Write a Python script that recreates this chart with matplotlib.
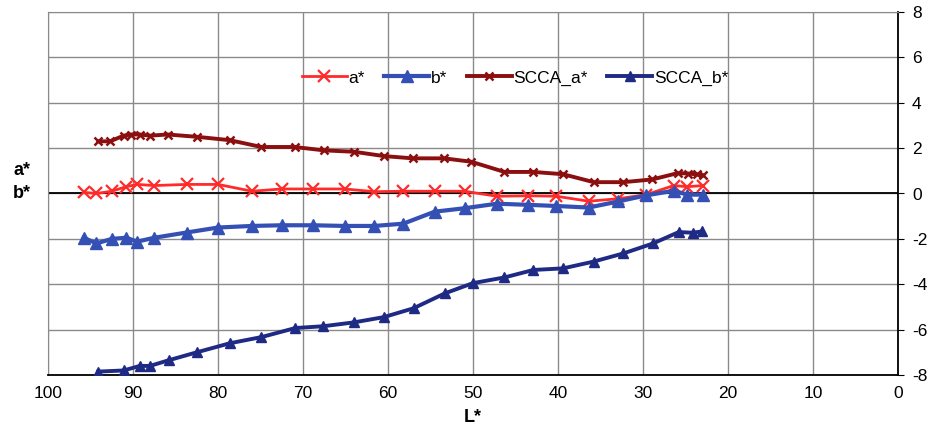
import matplotlib
matplotlib.use("Agg")
import matplotlib.pyplot as plt

plt.rcParams['axes.unicode_minus'] = False
plt.rcParams['font.family'] = ['Liberation Sans Narrow', 'Liberation Sans', 'DejaVu Sans']

# ---- data ----
L_ab = [95.8, 94.3, 92.5, 90.8, 89.5, 87.5, 83.7, 80.0, 76.0, 72.5, 68.8, 65.1, 61.6,
        58.2, 54.5, 51.0, 47.2, 43.5, 40.2, 36.4, 32.9, 29.6, 26.4, 24.8, 22.9]
a_star = [0.05, 0.0, 0.1, 0.3, 0.4, 0.35, 0.4, 0.4, 0.1, 0.2, 0.2, 0.2, 0.08,
          0.1, 0.1, 0.1, -0.12, -0.1, -0.12, -0.34, -0.23, -0.05, 0.35, 0.3, 0.35]
b_star = [-1.95, -2.2, -2.0, -1.95, -2.12, -1.95, -1.72, -1.5, -1.43, -1.4, -1.4, -1.43, -1.43,
          -1.33, -0.8, -0.65, -0.45, -0.5, -0.55, -0.62, -0.35, -0.08, 0.12, -0.05, -0.05]

L_scca_a = [94.1, 92.7, 91.1, 90.2, 89.2, 88.0, 85.9, 82.5, 78.6, 74.9, 71.0, 67.5, 64.0, 60.5,
            57.1, 53.4, 50.2, 46.3, 42.9, 39.4, 35.8, 32.3, 28.9, 25.9, 24.7, 23.6, 22.9]
scca_a = [2.3, 2.3, 2.55, 2.6, 2.6, 2.55, 2.6, 2.5, 2.35, 2.05, 2.05, 1.9, 1.84, 1.65,
          1.55, 1.55, 1.4, 0.95, 0.95, 0.85, 0.5, 0.5, 0.62, 0.9, 0.88, 0.84, 0.8]

L_scca_b = [94.1, 91.1, 89.2, 88.0, 85.8, 82.5, 78.6, 74.9, 70.9, 67.6, 64.0, 60.5, 57.0,
            53.3, 50.0, 46.3, 42.9, 39.4, 35.8, 32.3, 28.8, 25.8, 24.1, 23.1]
scca_b = [-7.85, -7.8, -7.6, -7.6, -7.35, -7.0, -6.6, -6.33, -5.93, -5.85, -5.68, -5.45, -5.06,
          -4.4, -3.95, -3.7, -3.37, -3.3, -3.0, -2.64, -2.2, -1.7, -1.73, -1.67]

x_ticks = [100, 90, 80, 70, 60, 50, 40, 30, 20, 10, 0]
y_ticks = [8, 6, 4, 2, 0, -2, -4, -6, -8]

# ---- figure ----
fig = plt.figure(figsize=(9.33, 4.44), dpi=100)
ax = fig.add_axes([48/933, 1-375/444, 850/933, 363/444])

grid_c = '#8a8a8a'
for xv in x_ticks:
    ax.axvline(xv, color=grid_c, lw=1.0, zorder=0)
for yv in y_ticks:
    ax.axhline(yv, color=grid_c, lw=1.0, zorder=0)
ax.axhline(0, color='black', lw=1.3, zorder=1)

ax.plot(L_ab, a_star, color='#ff2a2a', lw=2.0, marker='x', ms=8, mew=1.6, label='a*', zorder=3)
ax.plot(L_ab, b_star, color='#3550b5', lw=3.0, marker='^', ms=9, label='b*', zorder=3)
ax.plot(L_scca_a, scca_a, color='#8b0f0f', lw=2.8, marker='x', ms=6, mew=1.8, label='SCCA_a*', zorder=4)
ax.plot(L_scca_b, scca_b, color='#1f2a85', lw=2.8, marker='^', ms=6.5, label='SCCA_b*', zorder=4)

ax.set_xlim(100, 0)
ax.set_ylim(-8, 8)
ax.set_xticks(x_ticks)
ax.set_yticks(y_ticks)
ax.yaxis.tick_right()
ax.tick_params(axis='x', length=0, pad=8, labelsize=12.5)
ax.tick_params(axis='y', length=4, direction='out', pad=6, labelsize=12.5, color='black')
for s in ['top', 'left']:
    ax.spines[s].set_color(grid_c)
for s in ['bottom', 'right']:
    ax.spines[s].set_color('black')
    ax.spines[s].set_linewidth(1.3)

ax.set_xlabel('L*', fontsize=13, fontweight='bold', labelpad=6)
fig.text(22/933, 1-182/444, 'a*\nb*', fontsize=13, fontweight='bold', ha='center', va='center',
         linespacing=1.4)

leg = ax.legend(loc='center', bbox_to_anchor=((515-48)/850, (375-78)/363), ncol=4, frameon=False,
                fontsize=12.5, handlelength=2.6, handletextpad=0.1, columnspacing=1.1)

fig.savefig('out.png', dpi=100)
